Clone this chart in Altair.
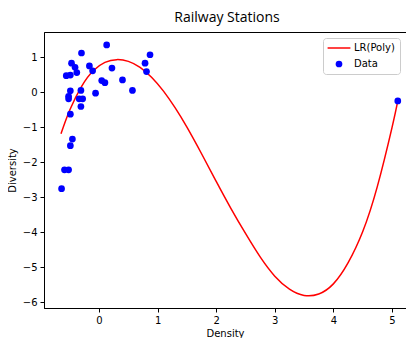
import altair as alt
import pandas as pd

# Scatter data (Density, Diversity)
pt_x = [0.13, -0.30, 0.87, -0.47, 0.785, -0.165, -0.41, 0.22, -0.11, 0.81,
        -0.38, -0.56, -0.49, 0.045, 0.10, 0.40, 0.57, -0.06, -0.49, -0.31,
        -0.52, -0.52, -0.34, -0.28, -0.31, -0.49, -0.455, -0.49, -0.59, -0.52,
        -0.64, 5.10]
pt_y = [1.35, 1.12, 1.07, 0.83, 0.83, 0.75, 0.71, 0.69, 0.61, 0.59,
        0.56, 0.47, 0.49, 0.33, 0.27, 0.35, 0.05, -0.03, 0.04, 0.05,
        -0.12, -0.19, -0.19, -0.19, -0.41, -0.63, -1.34, -1.53, -2.22, -2.22,
        -2.76, -0.25]

# Fitted polynomial curve
ln_x = [-0.65, -0.5, -0.3, -0.1, 0.1, 0.3, 0.5, 0.7, 0.9, 1.1, 1.3, 1.5,
        1.75, 2.0, 2.25, 2.5, 2.75, 3.0, 3.25, 3.5, 3.75, 4.0, 4.25, 4.5,
        4.75, 5.0, 5.1]
ln_y = [-1.19, -0.51, 0.16, 0.61, 0.85, 0.93, 0.88, 0.71, 0.42, 0.03, -0.45, -1.00,
        -1.76, -2.55, -3.32, -4.04, -4.71, -5.26, -5.63, -5.81, -5.77, -5.48, -4.88, -3.99,
        -2.70, -1.02, -0.25]

series = ["LR(Poly)", "Data"]
x_ticks = [0, 1, 2, 3, 4, 5]
y_ticks = [-6, -5, -4, -3, -2, -1, 0, 1]

pts = pd.DataFrame({"x": pt_x, "y": pt_y, "series": "Data"})
line = pd.DataFrame({"x": ln_x, "y": ln_y})

xs = alt.Scale(domain=[-0.94, 5.24], nice=False, zero=False)
ys = alt.Scale(domain=[-6.17, 1.72], nice=False, zero=False)
xax = alt.Axis(values=x_ticks, title="Density", grid=False)
yax = alt.Axis(values=y_ticks, title="Diversity", grid=False)

line_layer = alt.Chart(line).mark_line(
    color="#ff0000", strokeWidth=1.5, interpolate="natural"
).encode(
    x=alt.X("x:Q", scale=xs, axis=xax),
    y=alt.Y("y:Q", scale=ys, axis=yax),
)

bar_path = "M-3.4,-0.22H3.4V0.22H-3.4Z"
point_layer = alt.Chart(pts).mark_point(filled=True, size=45, opacity=1).encode(
    x=alt.X("x:Q", scale=xs, axis=xax),
    y=alt.Y("y:Q", scale=ys, axis=yax),
    color=alt.Color("series:N",
                    scale=alt.Scale(domain=series, range=["#ff0000", "#0000ff"]),
                    legend=alt.Legend(title=None, orient="none", legendX=279, legendY=6)),
    shape=alt.Shape("series:N",
                    scale=alt.Scale(domain=series, range=[bar_path, "circle"]),
                    legend=alt.Legend(title=None, orient="none", legendX=279, legendY=6)),
)

chart = alt.layer(line_layer, point_layer).properties(
    width=362,
    height=276,
    autosize=alt.AutoSizeParams(type="none"),
    padding={"left": 36, "top": 24, "right": 0, "bottom": 30},
    title=alt.TitleParams(
        "Railway Stations", font="Open Sans", fontSize=14, fontWeight="normal",
        color="#000000", anchor="middle", dx=2, offset=7,
    ),
).configure_view(
    stroke="#000000", strokeWidth=1
).configure_axis(
    labelFont="DejaVu Sans", titleFont="DejaVu Sans",
    labelFontSize=10, titleFontSize=10, labelColor="#000000", titleColor="#000000",
    titleFontWeight="normal", domainColor="#000000", tickColor="#000000",
    tickSize=4, labelPadding=3, domainWidth=1, tickWidth=1,
).configure_axisY(
    titlePadding=5
).configure_axisX(
    titlePadding=3
).configure_legend(
    labelFont="DejaVu Sans", labelFontSize=10, labelColor="#000000",
    strokeColor="#cccccc", fillColor="#ffffff", cornerRadius=3,
    padding=5, symbolSize=45, symbolStrokeWidth=0, rowPadding=6,
    labelOffset=10, symbolOffset=6,
)

chart.save("out.html", embed_options={"renderer": "svg", "actions": False})
